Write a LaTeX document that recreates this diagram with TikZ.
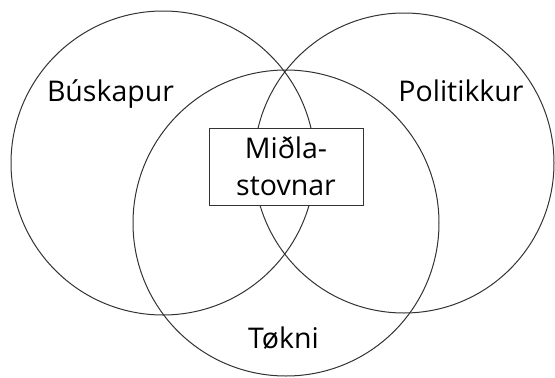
\documentclass[tikz,border=0pt]{standalone}
\usepackage{fontspec}
\setmainfont{Open Sans}
\usetikzlibrary{calc}

\begin{document}
\begin{tikzpicture}[x=1pt, y=-1pt, every node/.style={font=\fontsize{28.5}{37}\selectfont}]
			%%%%% START %%%%%
			
			\useasboundingbox (0, 0) rectangle (555, 378);
			
			\draw[line width=1pt, color=black!80] (163, 163) circle (152);
			\draw[line width=1pt, color=black!80] (404, 163) circle (150);
			\draw[line width=1pt, color=black!80] (286, 223) circle (153);
			
			\node[anchor=base] (buskapur) at (110.5, 101.7) {Búskapur};
			\node[anchor=base] (politikkur) at (461, 101.7) {Politikkur};
			\node[anchor=base] (tokni) at (283.5, 348) {Tøkni};
			
			\node[draw=black!80, fill=white, line width=1pt, align=center, inner sep=0pt, minimum width=154, minimum height=77] (midlastovnar) at (286, 166.5) {Miðla-\\stovnar};
			
			%%%%% END %%%%%
\end{tikzpicture}
\end{document}
